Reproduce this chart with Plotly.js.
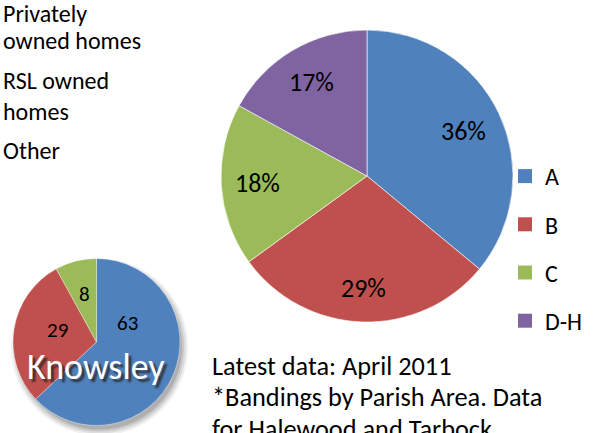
<!DOCTYPE html>
<html><head><meta charset="utf-8">
<script src="https://cdn.plot.ly/plotly-3.0.1.min.js"></script>
<style>html,body{margin:0;padding:0;background:#fff;}#chart{width:598px;height:433px;}</style>
</head><body><div id="chart"></div>
<script>
// Council tax bandings (main pie)
const bandLabels = ['A', 'B', 'C', 'D-H'];
const bandShares = [36, 29, 18, 17];
const bandColors = ['#4F81BD', '#C0504D', '#9BBB59', '#8064A2'];
// Knowsley tenure (small pie)
const tenureLabels = ['Privately owned homes', 'RSL owned homes', 'Other'];
const tenureValues = [63, 29, 8];
const tenureColors = ['#4F81BD', '#C0504D', '#9BBB59'];
// Text blocks
const tenureTextLines = ['Privately', 'owned homes', 'RSL owned', 'homes', 'Other'];
const noteLines = ['Latest data: April 2011', '*Bandings by Parish Area. Data', 'for Halewood and Tarbock'];
const smallPieTitle = 'Knowsley';

const W = 598, H = 433;
const FONT = 'Carlito, Calibri, Lato, sans-serif';
const mainGeom = {cx: 367, cy: 176, r: 146};
const smallGeom = {cx: 96.5, cy: 342, r: 83.5};
function dom(p) {
  return {x: [(p.cx - p.r) / W, (p.cx + p.r) / W], y: [(H - p.cy - p.r) / H, (H - p.cy + p.r) / H]};
}
function px(x) { return x / W; }
function py(y) { return (H - y) / H; }

const traces = [
  {
    type: 'pie', labels: bandLabels, values: bandShares, sort: false, direction: 'clockwise', rotation: 0,
    marker: {colors: bandColors, line: {color: '#ffffff', width: 0.6}},
    textinfo: 'none', domain: dom(mainGeom), showlegend: false, hoverinfo: 'label+percent'
  },
  {
    type: 'pie', labels: tenureLabels, values: tenureValues, sort: false, direction: 'clockwise', rotation: 0,
    marker: {colors: tenureColors, line: {color: '#ffffff', width: 0.4}},
    textinfo: 'none', domain: dom(smallGeom), showlegend: false, hoverinfo: 'label+value'
  }
];
// legend entries for the bands
bandLabels.forEach((lab, i) => {
  traces.push({
    type: 'scatter', mode: 'markers', x: [null], y: [null], name: lab, legendgroup: 'g' + i,
    marker: {symbol: 'square', size: 14, color: bandColors[i]}, showlegend: true, hoverinfo: 'skip'
  });
});

// soft shadow behind the small pie
const shapes = [];
const shadowSteps = [[6, 0.08], [4, 0.10], [2, 0.13], [0, 0.18]];
shadowSteps.forEach(([grow, op]) => {
  const r = smallGeom.r + grow - 1;
  const cx = smallGeom.cx + 3, cy = smallGeom.cy + 5;
  shapes.push({
    type: 'circle', xref: 'paper', yref: 'paper', layer: 'below',
    x0: px(cx - r), x1: px(cx + r), y0: py(cy + r), y1: py(cy - r),
    fillcolor: 'rgba(60,60,60,' + op + ')', line: {width: 0}
  });
});

const annotations = [];
// slice labels placed from the data (mid-angle of each slice)
function sliceLabels(values, geom, fmt, placement, size) {
  const total = values.reduce((a, b) => a + b, 0);
  let cum = 0;
  values.forEach((v, i) => {
    const mid = (cum + v / 2) / total * 360;
    cum += v;
    const pl = placement[i];
    const ang = (pl.angle !== undefined ? pl.angle : mid) * Math.PI / 180;
    const rr = geom.r * pl.rf;
    annotations.push({
      text: fmt(v, total), xref: 'paper', yref: 'paper',
      x: px(geom.cx + rr * Math.sin(ang)), y: py(geom.cy - rr * Math.cos(ang)),
      xanchor: 'center', yanchor: 'middle', showarrow: false,
      font: {family: FONT, size: size, color: '#000000'}
    });
  });
}
sliceLabels(bandShares, mainGeom, (v, t) => Math.round(v / t * 100) + '%',
  [{rf: 0.73}, {rf: 0.77}, {rf: 0.75}, {rf: 0.75}], 26);
sliceLabels(tenureValues, smallGeom, (v) => String(v),
  [{rf: 0.44, angle: 59}, {rf: 0.49, angle: 287}, {rf: 0.59}], 21);

const tenureTextY = [13.3, 40, 80.3, 111, 150.5];
tenureTextLines.forEach((t, i) => {
  annotations.push({
    text: t, xref: 'paper', yref: 'paper', x: px(1), y: py(tenureTextY[i]), xanchor: 'left', yanchor: 'middle',
    showarrow: false, font: {family: FONT, size: 24, color: '#000000'}
  });
});
const noteY = [365.5, 397.2, 428.9];
noteLines.forEach((t, i) => {
  annotations.push({
    text: t, xref: 'paper', yref: 'paper', x: px(210), y: py(noteY[i]), xanchor: 'left', yanchor: 'middle',
    showarrow: false, font: {family: FONT, size: 26.3, color: '#000000'}
  });
});
annotations.push({
  text: smallPieTitle, xref: 'paper', yref: 'paper', x: px(96), y: py(367), xanchor: 'center', yanchor: 'middle',
  showarrow: false, font: {family: FONT, size: 36, color: '#ffffff', shadow: '3px 3px 2px rgba(40,40,40,0.85)'}
});

const layout = {
  width: W, height: H, margin: {l: 0, r: 0, t: 0, b: 0},
  paper_bgcolor: '#ffffff', plot_bgcolor: 'rgba(0,0,0,0)',
  xaxis: {visible: false, range: [0, 1], fixedrange: true},
  yaxis: {visible: false, range: [0, 1], fixedrange: true},
  showlegend: true,
  legend: {x: px(505), y: py(154), xanchor: 'left', yanchor: 'top', tracegroupgap: 14,
           font: {family: FONT, size: 24, color: '#000000'}, bgcolor: 'rgba(0,0,0,0)', itemclick: false},
  shapes: shapes, annotations: annotations
};
Plotly.newPlot('chart', traces, layout, {displayModeBar: false, staticPlot: true});
</script></body></html>
